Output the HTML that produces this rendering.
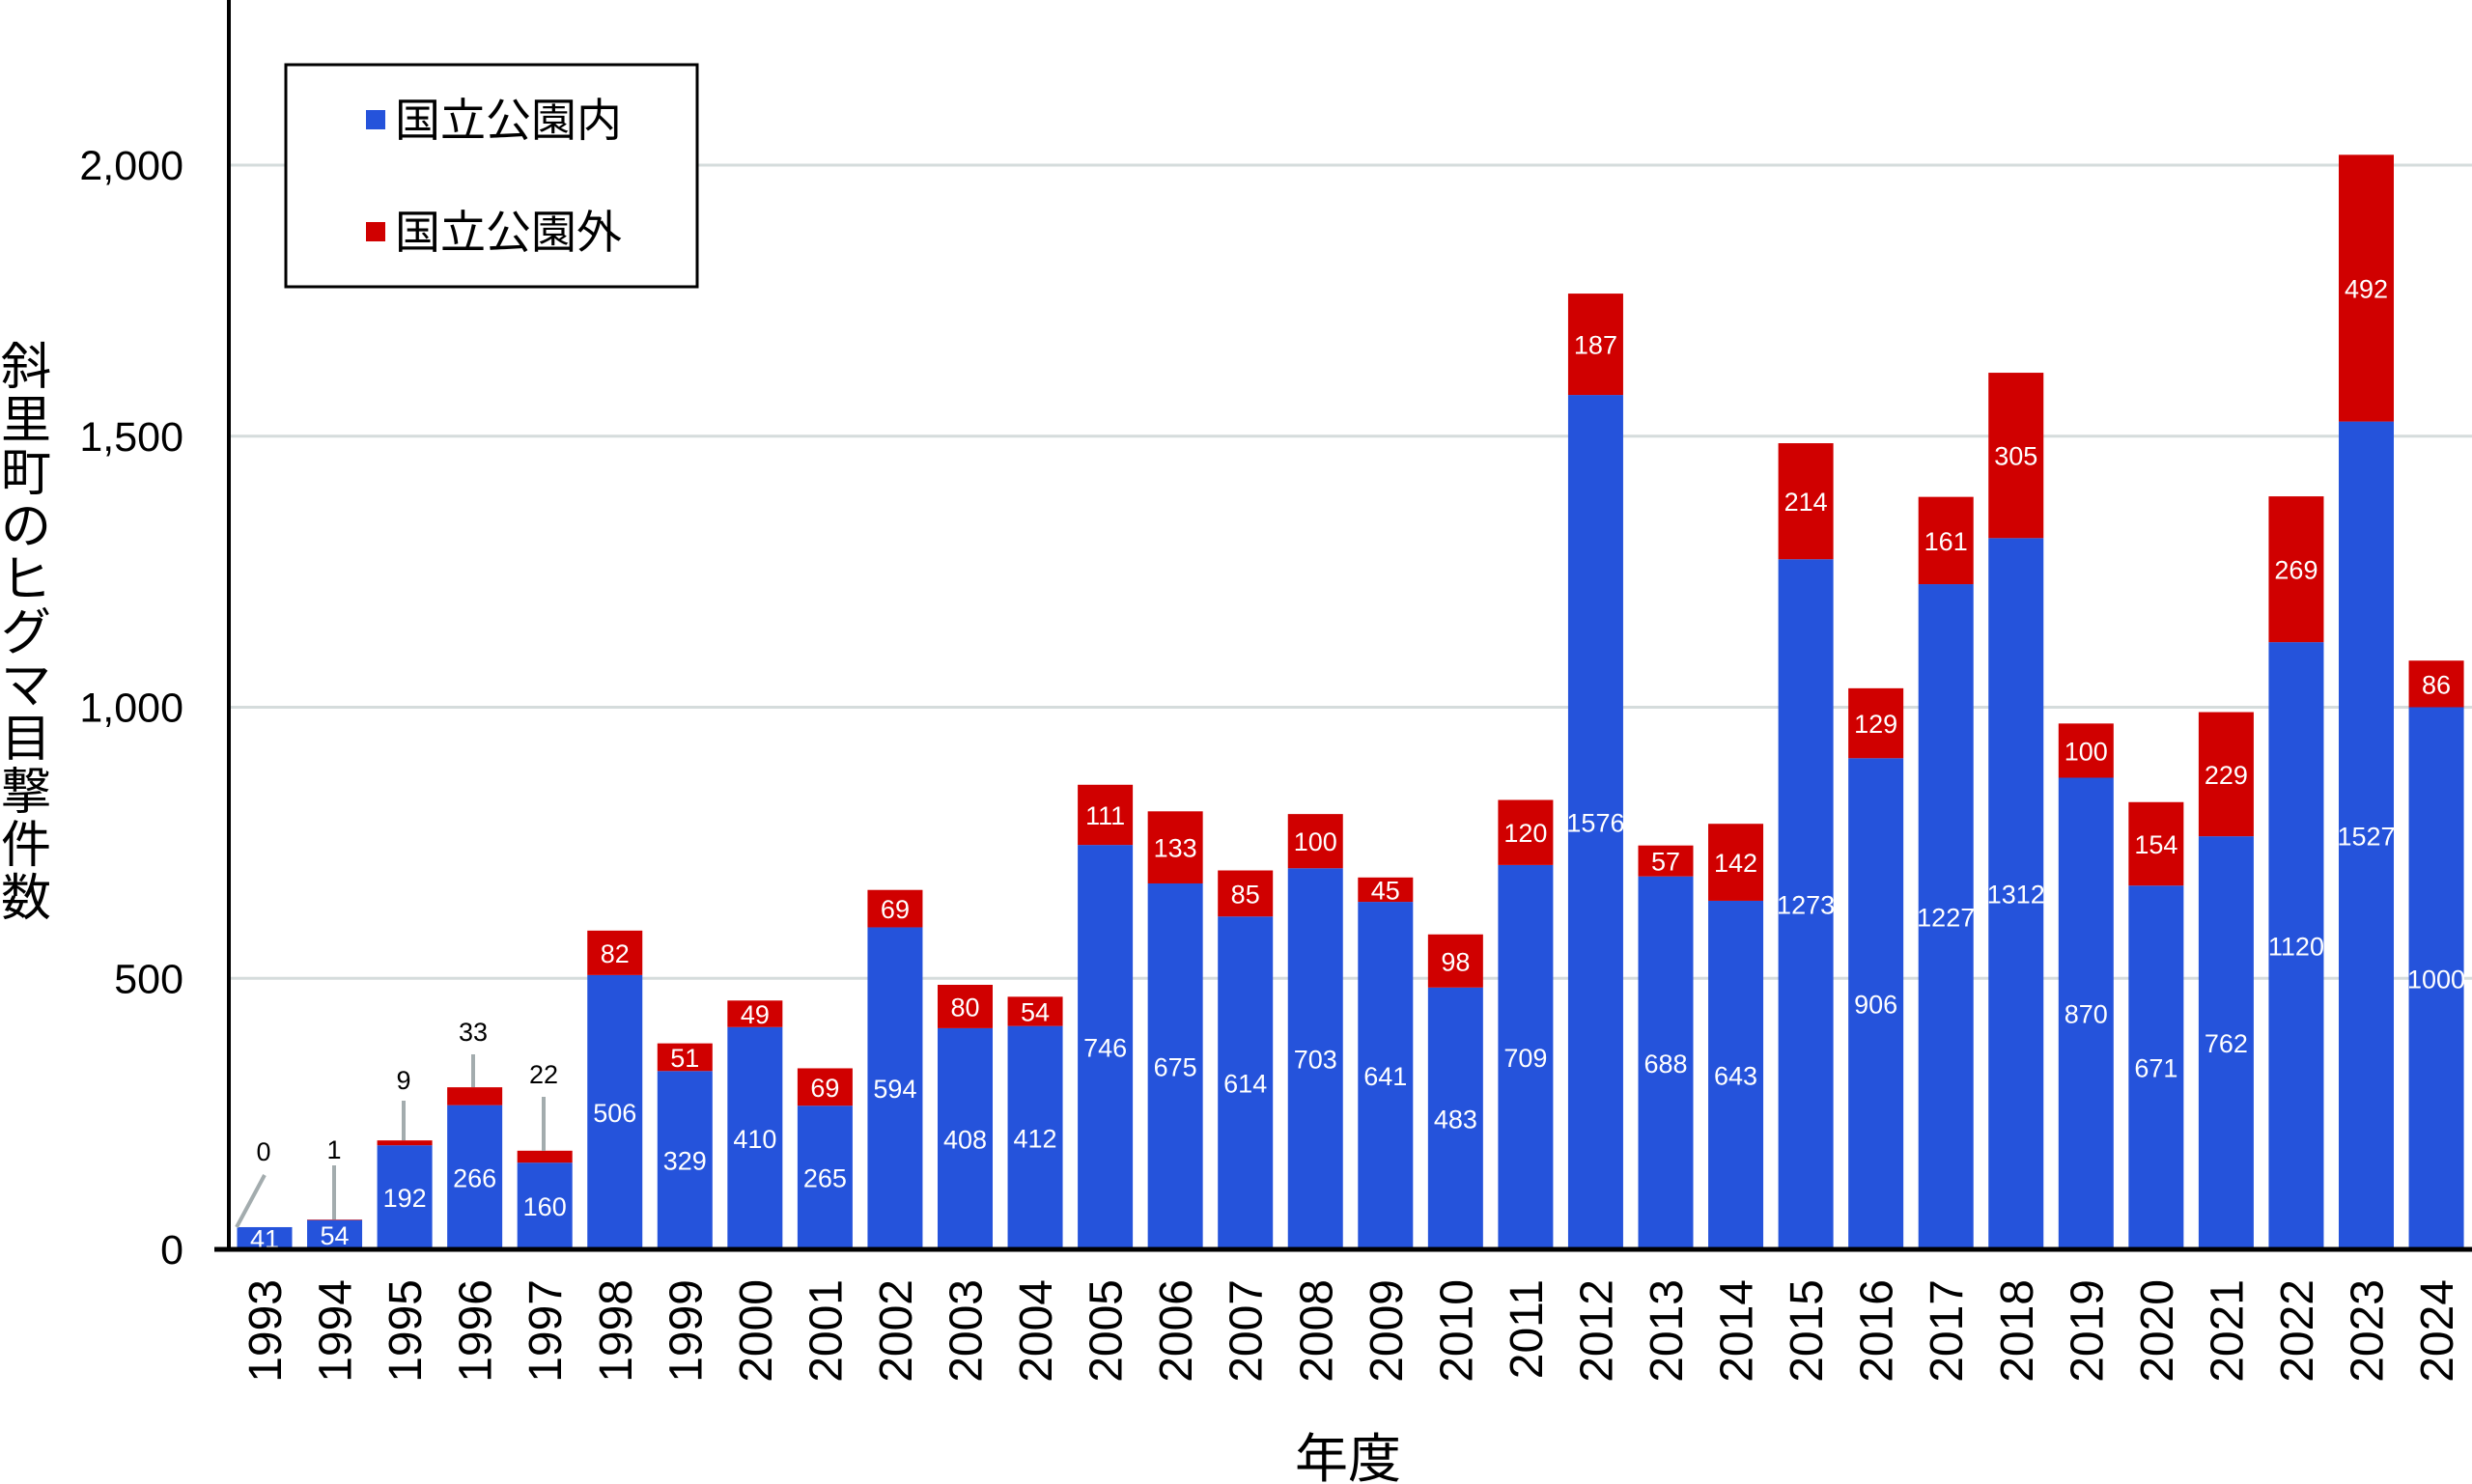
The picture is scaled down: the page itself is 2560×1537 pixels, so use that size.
<!DOCTYPE html>
<html><head><meta charset="utf-8"><style>
html,body{margin:0;padding:0;background:#fff;}
svg{display:block;}
text{font-family:"Liberation Sans","Noto Sans CJK JP",sans-serif;}
</style></head><body>
<svg id="c" width="2560" height="1537" xmlns="http://www.w3.org/2000/svg"></svg>
<script>
const blue=[41,54,192,266,160,506,329,410,265,594,408,412,746,675,614,703,641,483,709,1576,688,643,1273,906,1227,1312,870,671,762,1120,1527,1000];
const red=[0,1,9,33,22,82,51,49,69,69,80,54,111,133,85,100,45,98,120,187,57,142,214,129,161,305,100,154,229,269,492,86];
const Y0=1294,K=0.5615,X0=274,DX=72.55,W=57;
const y=v=>Y0-v*K;
let s='';
for(const v of [500,1000,1500,2000]){s+=`<line x1="237" x2="2560" y1="${y(v)}" y2="${y(v)}" stroke="#d5dcdc" stroke-width="3"/>`;}
for(let i=0;i<32;i++){
 const cx=X0+i*DX,b=blue[i],r=red[i];
 s+=`<rect x="${cx-W/2}" y="${y(b)}" width="${W}" height="${b*K}" fill="#2553db"/>`;
 if(r>0) s+=`<rect x="${cx-W/2}" y="${y(b+r)}" width="${W}" height="${r*K}" fill="#d00000"/>`;
 s+=`<text x="${cx}" y="${y(b/2)+10}" font-size="27" fill="#fff" text-anchor="middle">${b}</text>`;
 if(i>=5) s+=`<text x="${cx}" y="${y(b+r/2)+10}" font-size="27" fill="#fff" text-anchor="middle">${r}</text>`;
 s+=`<text transform="translate(${cx+17},1325) rotate(-90)" font-size="48" text-anchor="end">${1993+i}</text>`;
}
const call=[[273,1192,[[274,1217,245,1271]]],[346,1190,[[346,1207,346,1263]]],[418,1118,[[418,1140,418,1181]]],[490,1068,[[490,1092,490,1126]]],[563,1112,[[563,1136,563,1192]]]];
call.forEach((c,i)=>{s+=`<text x="${c[0]}" y="${c[1]+10}" font-size="27" text-anchor="middle">${red[i]}</text>`;
 c[2].forEach(l=>s+=`<line x1="${l[0]}" y1="${l[1]}" x2="${l[2]}" y2="${l[3]}" stroke="#a3acae" stroke-width="4"/>`);});
s+=`<line x1="237" y1="0" x2="237" y2="1296" stroke="#000" stroke-width="4"/>`;
s+=`<line x1="222" y1="1294" x2="2560" y2="1294" stroke="#000" stroke-width="5"/>`;
[[0,'0'],[500,'500'],[1000,'1,000'],[1500,'1,500'],[2000,'2,000']].forEach(t=>s+=`<text x="190" y="${y(t[0])+15}" font-size="43" text-anchor="end">${t[1]}</text>`);
s+=`<rect x="296" y="67" width="426" height="230" fill="#fff" stroke="#000" stroke-width="3"/>`;
s+=`<rect x="379" y="114" width="20" height="20" fill="#2553db"/><text x="409" y="141" font-size="47">国立公園内</text>`;
s+=`<rect x="379" y="230" width="20" height="20" fill="#d00000"/><text x="409" y="257" font-size="47">国立公園外</text>`;
const yt='斜里町のヒグマ目撃件数';
for(let i=0;i<yt.length;i++){s+=`<text x="27" y="${398+i*55}" font-size="52" text-anchor="middle">${yt[i]}</text>`;}
s+=`<text x="1396" y="1530" font-size="55" text-anchor="middle">年度</text>`;
document.getElementById('c').innerHTML=s;
</script>
</body></html>
